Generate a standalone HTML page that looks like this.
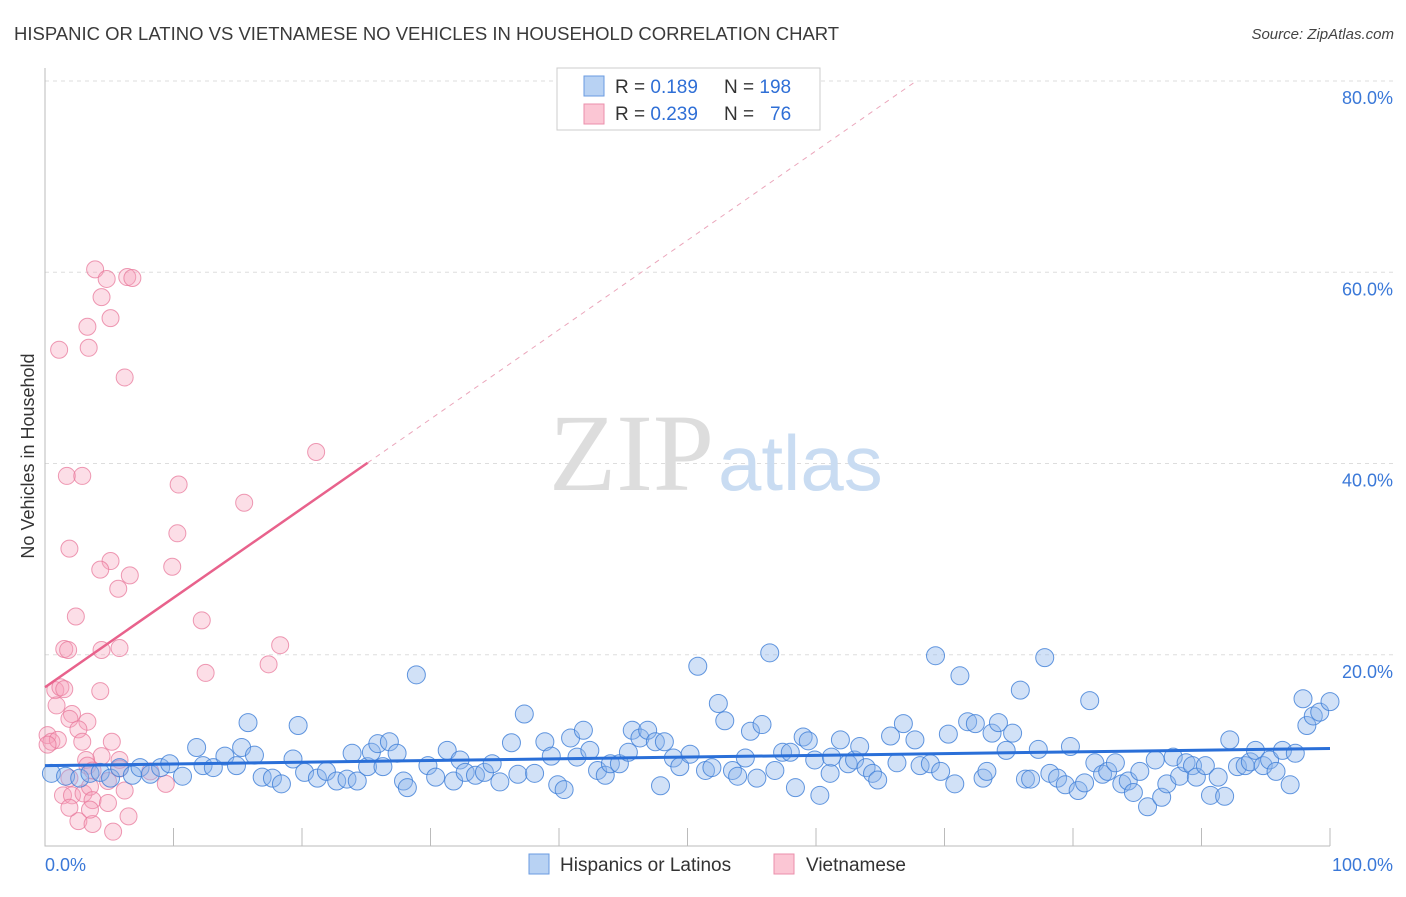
<!DOCTYPE html>
<html><head><meta charset="utf-8"><style>
body{margin:0;background:#fff;font-family:"Liberation Sans",sans-serif}
</style></head><body>
<svg id="chart" width="1406" height="892" xmlns="http://www.w3.org/2000/svg">
<text x="14" y="40" font-size="18.5" fill="#3a3a3a">HISPANIC OR LATINO VS VIETNAMESE NO VEHICLES IN HOUSEHOLD CORRELATION CHART</text>
<text x="1394" y="39" font-size="15" fill="#444" font-style="italic" text-anchor="end">Source: ZipAtlas.com</text>
<text x="0" y="0" transform="translate(34,456) rotate(-90)" font-size="18" fill="#333" text-anchor="middle">No Vehicles in Household</text>
<g id="grid"></g>
<text x="714" y="490" font-size="110" font-family="Liberation Serif,serif" fill="#ddd" text-anchor="end">ZIP</text>
<text x="718" y="490" font-size="78" fill="#c9dcf2">atlas</text>
<g id="pts"></g>
<g id="lines"></g>
<g>
<rect x="557" y="68" width="263" height="62" fill="#fff" stroke="#ccc"/>
<rect x="584" y="76" width="20" height="20" fill="#b8d2f3" stroke="#6a9be0"/>
<rect x="584" y="104" width="20" height="20" fill="#fbc6d4" stroke="#eb8fab"/>
<text x="615" y="93" font-size="19" fill="#333">R = <tspan fill="#2f6fd6">0.189</tspan><tspan x="724">N = </tspan><tspan fill="#2f6fd6">198</tspan></text>
<text x="615" y="120" font-size="19" fill="#333">R = <tspan fill="#2f6fd6">0.239</tspan><tspan x="724">N = </tspan><tspan fill="#2f6fd6" x="770">76</tspan></text>
</g>
<g>
<rect x="529" y="854" width="20" height="20" fill="#b8d2f3" stroke="#6a9be0"/>
<text x="560" y="871" font-size="19" fill="#333">Hispanics or Latinos</text>
<rect x="774" y="854" width="20" height="20" fill="#fbc6d4" stroke="#eb8fab"/>
<text x="806" y="871" font-size="19" fill="#333">Vietnamese</text>
</g>
<text x="45" y="871" font-size="18" fill="#3a78d8">0.0%</text>
<text x="1393" y="871" font-size="18" fill="#3a78d8" text-anchor="end">100.0%</text>
</svg>
<script>
const yTicks=[20,40,60,80];
const yTickLabels=["20.0%","40.0%","60.0%","80.0%"];
const xTicks=[10,20,30,40,50,60,70,80,90,100];
const blueX=[0.5,1.6,2.7,3.5,4.3,5.1,5.8,6.8,7.4,8.2,9.0,9.7,10.7,11.8,12.3,13.1,14.0,14.9,15.3,15.8,16.3,16.9,17.7,18.4,19.3,19.7,20.2,21.2,21.9,22.7,23.5,23.9,24.3,25.1,25.4,25.9,26.3,26.8,27.4,27.9,28.2,28.9,29.8,30.4,31.3,31.8,32.3,32.7,33.5,34.2,34.8,35.4,36.3,36.8,37.3,38.1,38.9,39.4,39.9,40.4,40.9,41.4,41.9,42.4,43.0,43.6,44.0,44.7,45.4,45.7,46.3,46.9,47.5,47.9,48.2,48.9,49.4,50.2,50.8,51.4,51.9,52.4,52.9,53.5,53.9,54.5,54.9,55.4,55.8,56.4,56.8,57.4,58.0,58.4,59.0,59.4,59.9,60.3,61.1,61.2,61.9,62.5,63.0,63.4,63.9,64.4,64.8,65.8,66.3,66.8,67.7,68.1,68.9,69.3,69.7,70.3,70.8,71.2,71.8,72.4,73.0,73.3,73.7,74.2,74.8,75.3,75.9,76.3,76.7,77.3,77.8,78.2,78.8,79.4,79.8,80.4,80.9,81.3,81.7,82.3,82.7,83.3,83.8,84.3,84.7,85.2,85.8,86.4,86.9,87.3,87.8,88.3,88.8,89.3,89.6,90.3,90.7,91.3,91.8,92.2,92.8,93.4,93.8,94.2,94.8,95.3,95.8,96.3,96.9,97.3,97.9,98.2,98.7,99.2,100];
const blueY=[7.6,7.3,7.1,7.6,7.7,7.1,8.2,7.4,8.2,7.5,8.2,8.6,7.3,10.3,8.4,8.2,9.4,8.4,10.3,12.9,9.5,7.2,7.1,6.5,9.1,12.6,7.7,7.1,7.8,6.8,7.0,9.7,6.8,8.3,9.8,10.7,8.3,10.9,9.7,6.8,6.1,17.9,8.4,7.2,10.0,6.8,9.0,7.7,7.4,7.7,8.6,6.7,10.8,7.5,13.8,7.6,10.9,9.4,6.4,5.9,11.3,9.3,12.1,10.0,7.9,7.4,8.6,8.6,9.8,12.1,11.3,12.1,10.9,6.3,10.9,9.2,8.3,9.6,18.8,7.9,8.2,14.9,13.1,7.9,7.3,9.2,12.0,7.1,12.7,20.2,7.9,9.8,9.8,6.1,11.4,11.0,9.0,5.3,7.6,9.3,11.1,8.6,9.0,10.4,8.2,7.6,6.9,11.5,8.7,12.8,11.1,8.4,8.6,19.9,7.8,11.7,6.5,17.8,13.0,12.8,7.1,7.8,11.8,12.9,10.0,11.8,16.3,7.0,7.0,10.1,19.7,7.6,7.1,6.4,10.4,5.8,6.6,15.2,8.7,7.5,7.8,8.7,6.5,6.8,5.6,7.8,4.1,9.0,5.1,6.5,9.3,7.3,8.7,8.4,7.2,8.4,5.3,7.2,5.2,11.1,8.3,8.4,8.8,10.0,8.4,9.0,7.8,10.0,6.4,9.7,15.4,12.6,13.6,14.0,15.1];
const pinkX=[1.1,3.9,3.3,3.4,4.4,4.8,5.1,6.4,6.8,6.2,1.7,2.9,10.4,10.3,15.5,21.1,1.9,5.1,4.3,6.6,5.7,9.9,2.4,12.2,1.5,1.8,4.4,5.8,18.3,17.4,12.5,0.8,1.2,1.5,4.3,0.9,2.1,1.9,3.3,2.6,0.2,0.5,1.0,0.2,2.9,5.2,4.4,3.2,5.8,3.3,3.7,5.8,8.2,1.9,1.4,2.1,3.0,3.5,4.9,6.2,3.7,4.9,9.4,2.6,3.7,5.3,6.5,3.5,1.9];
const pinkY=[51.9,60.3,54.3,52.1,57.4,59.3,55.2,59.5,59.4,49.0,38.7,38.7,37.8,32.7,35.9,41.2,31.1,29.8,28.9,28.3,26.9,29.2,24.0,23.6,20.6,20.5,20.5,20.7,21.0,19.0,18.1,16.3,16.6,16.4,16.2,14.7,13.8,13.3,13.0,12.2,11.6,10.9,11.1,10.6,10.9,10.9,9.4,9.0,9.0,8.4,7.9,8.1,7.8,7.1,5.3,5.3,5.5,6.2,6.8,5.8,4.8,4.5,6.5,2.6,2.3,1.5,3.1,3.8,4.0];
const blueTrend=[8.4,10.2];
const pinkTrend=[16.6,0.935];
const pinkSolidEnd=25.1, pinkDashEnd=67.8;

const X0=45,X1=1330,Y0=846,YPX=9.5625;
const sx=v=>X0+(X1-X0)*v/100;
const sy=v=>Y0-v*YPX;
const NS="http://www.w3.org/2000/svg";
function mk(t,a,p){const e=document.createElementNS(NS,t);for(const k in a)e.setAttribute(k,a[k]);p.appendChild(e);return e;}
const grid=document.getElementById('grid');
yTicks.forEach((t,i)=>{
  const l=mk('line',{x1:X0,x2:1393,y1:sy(t),y2:sy(t),stroke:'#ddd','stroke-dasharray':'4,4'},grid);
  
  
  const tx=mk('text',{x:1393,y:sy(t)+23,'font-size':18,fill:'#3a78d8','text-anchor':'end'},grid);
  tx.textContent=yTickLabels[i];
  
  
});
const ax=mk('path',{d:`M${X0} 68V${Y0}H${X1}`,stroke:'#bbb',fill:'none'},grid);


xTicks.forEach(t=>{
  const l=mk('line',{x1:sx(t),x2:sx(t),y1:Y0-18,y2:Y0,stroke:'#bbb'},grid);
  
  
});
const pts=document.getElementById('pts');
pinkX.forEach((x,i)=>{
  const c=mk('circle',{cx:sx(x),cy:sy(pinkY[i]),r:8.5,fill:'rgba(246,160,185,0.35)',stroke:'rgba(232,120,155,0.75)','stroke-width':1},pts);
  
  
});
blueX.forEach((x,i)=>{
  const c=mk('circle',{cx:sx(x),cy:sy(blueY[i]),r:9,fill:'rgba(140,180,235,0.4)',stroke:'rgba(60,125,215,0.8)','stroke-width':1},pts);
  
  
});
const lines=document.getElementById('lines');
const pv=x=>pinkTrend[0]+pinkTrend[1]*x;
const d1=mk('line',{x1:sx(pinkSolidEnd),y1:sy(pv(pinkSolidEnd)),x2:sx(pinkDashEnd),y2:sy(pv(pinkDashEnd)),stroke:'#eba6bb','stroke-dasharray':'5,5','stroke-width':1},lines);


const s1=mk('line',{x1:sx(0),y1:sy(pv(0)),x2:sx(pinkSolidEnd),y2:sy(pv(pinkSolidEnd)),stroke:'#e8628c','stroke-width':2.5},lines);


const b1=mk('line',{x1:sx(0),y1:sy(blueTrend[0]),x2:sx(100),y2:sy(blueTrend[1]),stroke:'#2a6fd8','stroke-width':3},lines);


</script>
</body></html>
